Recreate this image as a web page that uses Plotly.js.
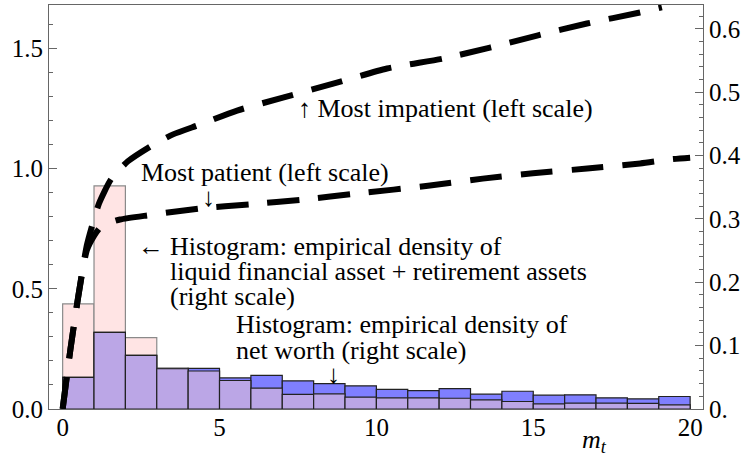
<!DOCTYPE html>
<html>
<head>
<meta charset="utf-8">
<script src="https://cdn.plot.ly/plotly-3.0.1.min.js"></script>
<style>html,body{margin:0;padding:0;background:#fff}#chart{width:745px;height:460px}</style>
</head>
<body>
<div id="chart"></div>
<script>
// Histogram bins (m_t), width 1
const binEdges = [0,1,2,3,4,5,6,7,8,9,10,11,12,13,14,15,16,17,18,19,20];
// Empirical density: liquid financial asset + retirement assets (right scale)
const liquidDensity = [0.166,0.352,0.1125,0.065,0.060,0.045,0.033,0.023,0.024,0.0187,0.0177,0.0177,0.017,0.0145,0.0118,0.0082,0.0092,0.0092,0.009,0.0066];
// Empirical density: net worth (right scale)
const netWorthDensity = [0.050,0.121,0.0845,0.0635,0.064,0.049,0.053,0.0445,0.040,0.0366,0.031,0.029,0.032,0.0234,0.028,0.0218,0.0224,0.0177,0.016,0.0197];
// Consumption function, most impatient (left scale)
const impatientM = [0,0.25,0.5,0.77,1.0,1.16,1.54,2.08,2.85,3.52,4.38,5.56,7.02,8.74,10.34,12.12,13.62,15.12,16.71,18.40,19.1];
const impatientC = [0,0.25,0.47,0.68,0.79,0.855,0.955,1.03,1.096,1.142,1.183,1.241,1.295,1.357,1.416,1.457,1.503,1.553,1.603,1.649,1.670];
// Consumption function, most patient (left scale)
const patientM = [0,0.25,0.5,0.77,1.0,1.2,1.5,1.83,2.69,4.38,5.97,7.66,9.38,11.71,13.39,14.99,16.72,18.41,19.36,20];
const patientC = [0,0.25,0.47,0.66,0.72,0.755,0.775,0.788,0.805,0.834,0.851,0.871,0.896,0.929,0.958,0.980,1.000,1.021,1.038,1.045];
// Tick labels
const xTickVals = [0,5,10,15,20];
const leftTickVals = [0,0.5,1.0,1.5];
const leftTickText = ['0.0','0.5','1.0','1.5'];
const rightTickVals = [0,0.1,0.2,0.3,0.4,0.5,0.6];
const rightTickText = ['0.','0.1','0.2','0.3','0.4','0.5','0.6'];

const centers = binEdges.slice(0,-1).map((e,i)=>(e+binEdges[i+1])/2);
const overlap = liquidDensity.map((v,i)=>Math.min(v, netWorthDensity[i]));

const FONT = '"Liberation Serif", "Times New Roman", serif';
const AX = '#666666';

const rightMinor = []; for (let i=0;i<=31;i++) rightMinor.push(+(i*0.02).toFixed(2));
const leftMinor = []; for (let i=0;i<=16;i++) leftMinor.push(+(i*0.1).toFixed(1));

const dashStyle = {color:'#000', width:6, dash:'32px,19px', shape:'spline', smoothing:0.6};

const traces = [
  {type:'bar', x:centers, y:liquidDensity, width:1, xaxis:'x', yaxis:'y',
   marker:{color:'#FFE4E4', line:{color:'#8a8a8a', width:1.2}}, hoverinfo:'skip'},
  {type:'bar', x:centers, y:netWorthDensity, width:1, xaxis:'x', yaxis:'y',
   marker:{color:'#7F7FFF', line:{color:'#222', width:1.2}}, hoverinfo:'skip'},
  {type:'bar', x:centers, y:overlap, width:1, xaxis:'x', yaxis:'y',
   marker:{color:'#BBA6E6', line:{color:'#222', width:1.2}}, hoverinfo:'skip'},
  {type:'scatter', mode:'lines', x:impatientM, y:impatientC, xaxis:'x', yaxis:'y2', line:dashStyle},
  {type:'scatter', mode:'lines', x:patientM, y:patientC, xaxis:'x', yaxis:'y2', line:dashStyle}
];

function ann(text, x, y, anchor){
  return {text:text, x:x, y:y, xref:'x', yref:'y2', showarrow:false,
          xanchor:anchor||'left', yanchor:'middle', font:{family:FONT, size:26, color:'#000'}};
}

const layout = {
  width:745, height:460,
  margin:{l:49, r:42, t:5, b:51, pad:0},
  paper_bgcolor:'#fff', plot_bgcolor:'#fff',
  showlegend:false, barmode:'overlay', bargap:0,
  font:{family:FONT, size:25, color:'#000'},
  xaxis:{range:[-0.435,20.41], tickmode:'array', tickvals:xTickVals, ticks:'', ticklabelstandoff:-4,
         showline:true, mirror:true, linecolor:AX, linewidth:1, showgrid:false, zeroline:false,
         tickfont:{family:FONT, size:25, color:'#000'}},
  yaxis:{side:'right', range:[0,0.6376], tickmode:'array', tickvals:rightTickVals, ticktext:rightTickText,
         ticks:'inside', ticklen:8, tickcolor:AX, tickwidth:1,
         minor:{tickmode:'array', tickvals:rightMinor, ticks:'inside', ticklen:4, tickcolor:AX, tickwidth:1},
         showline:true, linecolor:AX, linewidth:1, showgrid:false, zeroline:false,
         tickfont:{family:FONT, size:25, color:'#000'}},
  yaxis2:{side:'left', overlaying:'y', range:[0,1.680], tickmode:'array', tickvals:leftTickVals, ticktext:leftTickText,
         ticks:'inside', ticklen:8, tickcolor:AX, tickwidth:1,
         minor:{tickmode:'array', tickvals:leftMinor, ticks:'inside', ticklen:4, tickcolor:AX, tickwidth:1},
         showline:true, linecolor:AX, linewidth:1, showgrid:false, zeroline:false,
         tickfont:{family:FONT, size:25, color:'#000'}},
  annotations:[
    ann('↑ Most impatient (left scale)', 7.44, 1.250),
    ann('Most patient (left scale)', 2.44, 0.984),
    ann('↓', 4.64, 0.880, 'center'),
    ann('←', 2.82, 0.676, 'center'),
    ann('Histogram: empirical density of', 3.37, 0.676),
    ann('liquid financial asset + retirement assets', 3.37, 0.572),
    ann('(right scale)', 3.37, 0.466),
    ann('Histogram: empirical density of', 5.47, 0.350),
    ann('net worth (right scale)', 5.47, 0.243),
    ann('↓', 8.63, 0.145, 'center'),
    {text:'<i>m</i><sub><i>t</i></sub>', x:16.95, y:-0.08, xref:'x', yref:'paper', showarrow:false,
     xanchor:'center', yanchor:'middle', font:{family:FONT, size:26, color:'#000'}}
  ]
};

Plotly.newPlot('chart', traces, layout, {staticPlot:true, displayModeBar:false});
</script>
</body>
</html>
